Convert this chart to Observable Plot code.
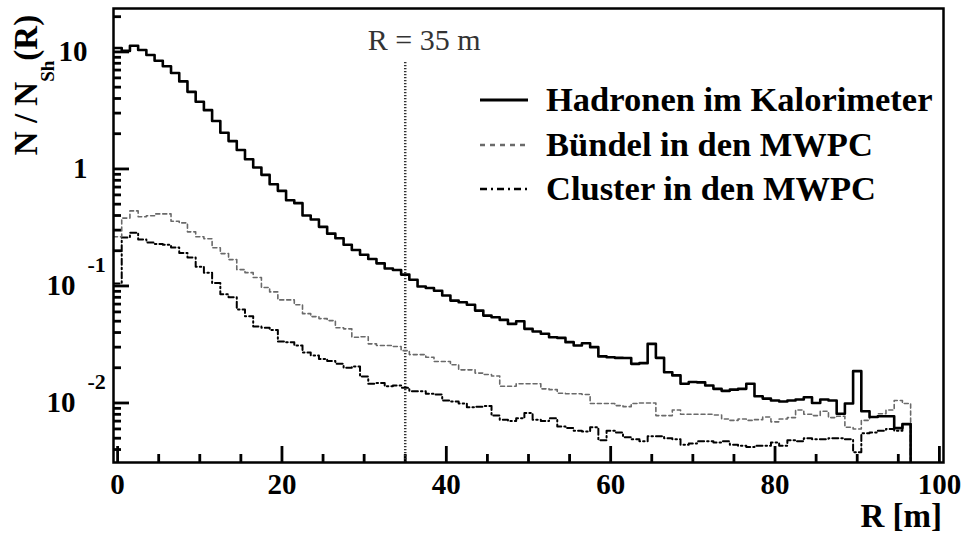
<!DOCTYPE html>
<html>
<head>
<meta charset="utf-8">
<script src="https://cdn.jsdelivr.net/npm/d3@7"></script>
<script src="https://cdn.jsdelivr.net/npm/@observablehq/plot@0.6"></script>
<style>
  html, body { margin: 0; padding: 0; background: #fff; }
  #chart svg { display: block; }
</style>
</head>
<body>
<div id="chart"></div>
<script>
// Lateral distribution: particles per shower vs. distance R from the shower core, 1 m bins
const binCentres = d3.range(0, 97);

const hadronen = [
  10.8, 10.2, 11.3, 10.4, 9.4, 8.4, 7.55, 6.6, 5.6, 4.56,
  3.75, 3.18, 2.57, 2.04, 1.73, 1.45, 1.21, 1.03, 0.89, 0.74,
  0.65, 0.54, 0.51, 0.40, 0.37, 0.32, 0.28, 0.256, 0.225, 0.203,
  0.185, 0.17, 0.156, 0.141, 0.137, 0.125, 0.113, 0.099, 0.096, 0.091,
  0.083, 0.075, 0.0725, 0.069, 0.0616, 0.0558, 0.054, 0.0513, 0.0474, 0.0499,
  0.043, 0.0408, 0.039, 0.0365, 0.036, 0.0331, 0.031, 0.0324, 0.030, 0.025,
  0.0246, 0.0243, 0.0242, 0.0216, 0.0219, 0.032, 0.0243, 0.0183, 0.0172, 0.0146,
  0.0151, 0.015, 0.0141, 0.0132, 0.0127, 0.013, 0.0132, 0.0146, 0.0114, 0.0109,
  0.0105, 0.0103, 0.0105, 0.0107, 0.0112, 0.0100, 0.0107, 0.0105, 0.0081, 0.0099,
  0.0187, 0.0085, 0.0076, 0.0077, 0.0077, 0.0061, 0.0066
];

const buendel = [
  0.263, 0.38, 0.438, 0.39, 0.398, 0.413, 0.413, 0.357, 0.346, 0.29,
  0.263, 0.253, 0.212, 0.189, 0.168, 0.138, 0.13, 0.118, 0.097, 0.089,
  0.076, 0.076, 0.069, 0.058, 0.0547, 0.0526, 0.0506, 0.044, 0.043, 0.0365,
  0.0368, 0.032, 0.031, 0.031, 0.0304, 0.028, 0.0259, 0.0259, 0.0246, 0.0226,
  0.0226, 0.0212, 0.0192, 0.0192, 0.018, 0.0175, 0.017, 0.0139, 0.0139, 0.0146,
  0.0146, 0.0146, 0.0132, 0.013, 0.0121, 0.012, 0.012, 0.0118, 0.0099, 0.0099,
  0.0099, 0.0095, 0.0093, 0.0099, 0.01, 0.01, 0.0078, 0.0078, 0.0087, 0.008,
  0.008, 0.008, 0.008, 0.0079, 0.0073, 0.0071, 0.0073, 0.0071, 0.0072, 0.0076,
  0.0069, 0.0073, 0.0075, 0.0087, 0.008, 0.0078, 0.0085, 0.0075, 0.0077, 0.0062,
  0.006, 0.0071, 0.0076, 0.0081, 0.0087, 0.0105, 0.0099
];

const cluster = [
  0.105, 0.26, 0.285, 0.25, 0.235, 0.228, 0.225, 0.213, 0.191, 0.175,
  0.146, 0.13, 0.106, 0.085, 0.08, 0.063, 0.055, 0.045, 0.044, 0.042,
  0.0335, 0.033, 0.031, 0.027, 0.0255, 0.0238, 0.0228, 0.0216, 0.020, 0.0205,
  0.0168, 0.0146, 0.0148, 0.0139, 0.0141, 0.0135, 0.0126, 0.0126, 0.012, 0.0118,
  0.0105, 0.0103, 0.0099, 0.0092, 0.0093, 0.0094, 0.0078, 0.0072, 0.007, 0.0074,
  0.0082, 0.0072, 0.007, 0.0074, 0.0063, 0.0061, 0.0058, 0.0057, 0.0062, 0.0048,
  0.0058, 0.0056, 0.0051, 0.0049, 0.0047, 0.0052, 0.0052, 0.005, 0.0049, 0.0044,
  0.0045, 0.0047, 0.0047, 0.0046, 0.0047, 0.0044, 0.0043, 0.0042, 0.0043, 0.0043,
  0.0046, 0.0043, 0.0048, 0.0047, 0.005, 0.0049, 0.0049, 0.005, 0.005, 0.0049,
  0.0038, 0.0055, 0.0056, 0.0058, 0.006, 0.0058, 0.0066
];

const seriesNames = ["Hadronen im Kalorimeter", "Bündel in den MWPC", "Cluster in den MWPC"];

const xTickLabels = [0, 20, 40, 60, 80, 100];
const xTicksMinor = d3.range(5, 100, 5).filter(d => d % 20 !== 0);
const yTicksMajor = [0.01, 0.1, 1, 10];
const yLabelBase = ["10", "10", "1", "10"];
const yLabelExp = ["-2", "-1", "", ""];
const cutR = 35;
const cutLabel = "R = 35 m";
const xTitle = "R [m]";

const yDomain = [0.0031, 23.5];
const yTicksMinor = [0.001, 0.01, 0.1, 1, 10]
  .flatMap(d => d3.range(2, 10).map(m => +(d * m).toPrecision(3)))
  .filter(v => v >= yDomain[0] && v <= yDomain[1]);

// Histogram outline: one point per lower bin edge, closed at the upper edge and dropped to the floor
function histogramSteps(values) {
  const rows = values.map((v, i) => ({r: binCentres[i] - 0.5, v}));
  const last = binCentres[values.length - 1] + 0.5;
  rows.push({r: last, v: values[values.length - 1]});
  rows.push({r: last, v: 1e-5});
  return rows;
}

const W = 963, H = 535;
const M = {left: 113, right: 20, top: 8, bottom: 73};
const innerW = W - M.left - M.right;
const innerH = H - M.top - M.bottom;

const serif = "'Liberation Serif', 'Times New Roman', Times, serif";
const yLabelRows = yTicksMajor.map((v, i) => ({v, base: yLabelBase[i], exp: yLabelExp[i]}));

// inward ticks: a tick spans the whole frame, inset down to its length
const yTick = len => ({y: d => d, stroke: "#000", strokeWidth: 2.8, insetRight: innerW - len});
const xTick = len => ({x: d => d, stroke: "#000", strokeWidth: 2.8, insetTop: innerH - len});

const svg = Plot.plot({
  width: W,
  height: H,
  marginLeft: M.left,
  marginRight: M.right,
  marginTop: M.top,
  marginBottom: M.bottom,
  x: {domain: [-0.5, 100.5], axis: null},
  y: {type: "log", domain: yDomain, axis: null},
  style: {fontFamily: serif, fontWeight: "bold", background: "#fff", color: "#000"},
  marks: [
    Plot.tickY(yTicksMinor, yTick(8)),
    Plot.tickY(yTicksMajor, yTick(16)),
    Plot.tickX(xTicksMinor, xTick(8)),
    Plot.tickX(xTickLabels, xTick(16)),

    // tick labels
    Plot.text(xTickLabels, {x: d => d, frameAnchor: "bottom", dy: 22, lineAnchor: "middle", text: d => String(d), fontSize: 29, fontWeight: "bold"}),
    Plot.text(yLabelRows.filter(d => !d.exp), {y: "v", text: "base", frameAnchor: "left", dx: -26, textAnchor: "end", lineAnchor: "middle", fontSize: 29, fontWeight: "bold"}),
    Plot.text(yLabelRows.filter(d => d.exp), {y: "v", text: "base", frameAnchor: "left", dx: -38, textAnchor: "end", lineAnchor: "middle", fontSize: 29, fontWeight: "bold"}),
    Plot.text(yLabelRows.filter(d => d.exp), {y: "v", text: "exp", frameAnchor: "left", dx: -26, dy: -21, textAnchor: "start", lineAnchor: "middle", fontSize: 22, fontWeight: "bold"}),

    // the R = 35 m cut
    Plot.ruleX([cutR], {x: d => d, insetTop: 54, stroke: "#333", strokeWidth: 2.5, strokeDasharray: "1.2,1.8"}),
    Plot.text([cutLabel], {x: () => cutR, frameAnchor: "top", dx: 19, dy: 32, lineAnchor: "middle", text: d => d, fontSize: 30, fontWeight: "normal", fill: "#333"}),

    // the three distributions
    Plot.lineY(histogramSteps(cluster), {x: "r", y: "v", curve: "step-after", stroke: "#000", strokeWidth: 2, strokeDasharray: "6,3,1.5,3", clip: true}),
    Plot.lineY(histogramSteps(buendel), {x: "r", y: "v", curve: "step-after", stroke: "#6a6a6a", strokeWidth: 1.6, strokeDasharray: "4,3", clip: true}),
    Plot.lineY(histogramSteps(hadronen), {x: "r", y: "v", curve: "step-after", stroke: "#000", strokeWidth: 2.6, clip: true}),

    Plot.frame({stroke: "#000", strokeWidth: 2.5})
  ]
});

const root = d3.select(svg);

// y-axis title N / N_Sh(R)
const yTitle = root.append("text")
  .attr("transform", "translate(37,85) rotate(-90)")
  .attr("text-anchor", "middle")
  .attr("font-family", serif)
  .attr("font-weight", "bold")
  .attr("font-size", 33)
  .attr("fill", "#000");
yTitle.append("tspan").text("N / N");
yTitle.append("tspan").attr("font-size", 19).attr("dy", 17).text("Sh");
yTitle.append("tspan").attr("dy", -17).text("(R)");

// x-axis title
root.append("text")
  .attr("x", 942).attr("y", 527)
  .attr("text-anchor", "end")
  .attr("font-family", serif)
  .attr("font-weight", "bold")
  .attr("font-size", 33)
  .attr("fill", "#000")
  .text(xTitle);

// legend
const legendStyles = [
  {stroke: "#000", width: 3, dash: null},
  {stroke: "#6a6a6a", width: 2.5, dash: "5,5"},
  {stroke: "#000", width: 2.5, dash: "7,4,2,4"}
];
const legendY = [100, 145, 189];
const legend = root.append("g");
seriesNames.forEach((name, i) => {
  const s = legendStyles[i];
  const line = legend.append("line")
    .attr("x1", 480).attr("x2", 528)
    .attr("y1", legendY[i]).attr("y2", legendY[i])
    .attr("stroke", s.stroke).attr("stroke-width", s.width);
  if (s.dash) line.attr("stroke-dasharray", s.dash);
  legend.append("text")
    .attr("x", 546).attr("y", legendY[i] + 11)
    .attr("text-anchor", "start")
    .attr("font-family", serif)
    .attr("font-weight", "bold")
    .attr("font-size", 34.5)
    .attr("fill", "#000")
    .text(name);
});

document.getElementById("chart").appendChild(svg);
</script>
</body>
</html>
